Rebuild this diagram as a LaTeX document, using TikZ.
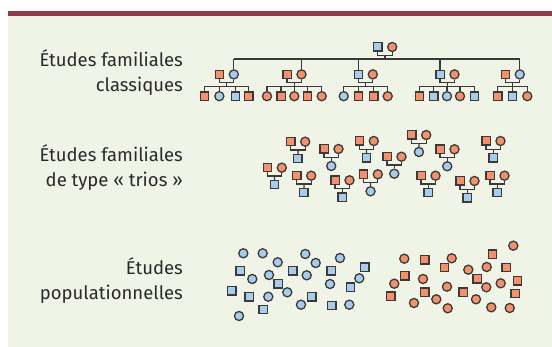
\documentclass[tikz,border=0pt]{standalone}
\usepackage{fontspec}
\setmainfont{Fira Sans}
\usetikzlibrary{calc}

\definecolor{panel}{HTML}{EFF4E6}
\definecolor{bar}{HTML}{8E3A4A}
\definecolor{orng}{HTML}{F4916C}
\definecolor{blu}{HTML}{A8CCEC}
\definecolor{linec}{HTML}{3A3A3A}
\definecolor{txtc}{HTML}{2A2A2A}

\tikzset{
  ind/.style={draw=linec, line width=1.3pt, inner sep=0pt},
  sqO/.style={ind, rectangle, minimum size=8.3pt, fill=orng},
  sqB/.style={ind, rectangle, minimum size=8.3pt, fill=blu},
  ciO/.style={ind, circle, minimum size=9.1pt, fill=orng},
  ciB/.style={ind, circle, minimum size=9.1pt, fill=blu},
  link/.style={draw=linec, line width=1.3pt},
  studytxt/.style={anchor=east, align=right, text=txtc, inner sep=0pt,
    font=\fontsize{18.5}{25.3}\selectfont}
}

% a couple: square (#1m) and circle (#1f), joined at (#1j)
\newcommand{\couple}[5]{%
  \node[#4] (#1m) at (#2,#3) {};
  \node[#5] (#1f) at (#2+14.5,#3) {};
  \coordinate (#1j) at ($(#1m.south)!0.5!(#1f.south)+(0,3.4)$);
  \draw[link] (#1m.south) |- (#1j) -| (#1f.south);
}
% a trio: two parents and one child (#1c)
\newcommand{\trio}[4]{%
  \couple{#1}{#2}{#3}{sqO}{ciO}
  \node[#4] (#1c) at (#2+7.25,#3+17) {};
  \draw[link] (#1j) -- (#1c.north);
}

\begin{document}
\begin{tikzpicture}[x=1pt,y=-1pt]
% Background and top bar
\fill[white] (0,0) rectangle (552,347);
\fill[panel] (8,16) rectangle (552,347);
\fill[bar] (8,11) rectangle (552,16);

% Row labels
\node[studytxt] (classic) at (183,72.2) {Études familiales\\classiques};
\node[studytxt] (trios) at (183,167.2) {Études familiales\\de type « trios »};
\node[studytxt] (popul) at (183,280.4) {Études\\populationnelles};

% Classical pedigree
\coordinate (br) at (0,59);
\coordinate (kids) at (0,86.3);
\couple{g}{377.7}{47}{sqB}{ciO}
\draw[link] (gj) -- (gj |- br);

\couple{a}{219.3}{74.4}{sqO}{ciB}
\couple{b}{287}{74.4}{sqO}{ciO}
\couple{c}{358.3}{74.4}{sqB}{ciO}
\couple{d}{440}{74.4}{sqB}{ciO}
\couple{e}{505.3}{74.4}{sqO}{ciB}

\draw[link] (af.north |- br) -- (ef.north |- br);
\foreach \n in {af,bf,cm,dm,ef}
  \draw[link] (\n.north) -- (\n.north |- br);

% Children of each family
\foreach \x/\s [count=\i] in {204.3/sqO,219.3/ciB,235.3/sqB,248.7/sqO} {
  \node[\s] (a\i) at (\x,96.2) {};
  \draw[link] (a\i.north) -- (a\i.north |- kids);
}
\foreach \x/\s [count=\i] in {267/ciO,281/sqO,294.3/ciO,307.3/sqO,321.7/ciO} {
  \node[\s] (b\i) at (\x,96.2) {};
  \draw[link] (b\i.north) -- (b\i.north |- kids);
}
\foreach \x/\s [count=\i] in {343.7/ciB,358.3/sqO,373.7/sqO,387.7/ciO} {
  \node[\s] (c\i) at (\x,96.2) {};
  \draw[link] (c\i.north) -- (c\i.north |- kids);
}
\foreach \x/\s [count=\i] in {419.3/sqO,433.7/sqB,447/ciB,460/ciO,474.3/sqB} {
  \node[\s] (d\i) at (\x,96.2) {};
  \draw[link] (d\i.north) -- (d\i.north |- kids);
}
\foreach \x/\s [count=\i] in {497.7/sqO,512.3/sqB,527.3/ciO} {
  \node[\s] (e\i) at (\x,96.2) {};
  \draw[link] (e\i.north) -- (e\i.north |- kids);
}
\draw[link] (a1.north |- kids) -- (a4.north |- kids);
\draw[link] (b1.north |- kids) -- (b5.north |- kids);
\draw[link] (c1.north |- kids) -- (c4.north |- kids);
\draw[link] (d1.north |- kids) -- (d5.north |- kids);
\draw[link] (e1.north |- kids) -- (e3.north |- kids);
\foreach \n in {a,b,c,d,e}
  \draw[link] (\n j) -- (\n j |- kids);

% Trios
\foreach \n/\x/\y/\s in {t1/290.7/141.7/sqB, t2/267.3/167.7/sqB,
    t3/324/149/ciB, t4/296.7/175.7/sqB, t5/359.3/141/sqB,
    t6/335/180.3/sqB, t7/363.3/174.3/ciB, t8/387/156.7/ciB,
    t9/411.7/135/ciB, t10/440/149.3/ciB, t11/421/175.7/sqB,
    t12/460/181/sqB, t13/486/141/sqB, t14/490/175.7/sqB}
  {\trio{\n}{\x}{\y}{\s}}

% Population samples
\foreach \x/\y [count=\i] in {243.3/253.3, 262.7/253.3, 277.7/262.3,
    305.3/254, 315.7/263, 340/258, 252.3/279, 269/275, 306.7/275.3,
    330/284, 359.3/278.3, 287.3/292.3, 268.3/296.7, 301/304.7,
    349.3/304.7, 239/316}
  \node[ciB] (pc\i) at (\x,\y) {};
\foreach \x/\y [count=\i] in {240/271, 292.7/271, 331/271, 364.7/267.3,
    278/284, 350.3/287.3, 231.7/291, 249/297, 311.7/297, 331.7/305.7,
    263/309.7}
  \node[sqB] (ps\i) at (\x,\y) {};
\foreach \x/\y [count=\i] in {404.3/258.7, 451.7/258.3, 513.3/245.7,
    468.3/269.7, 486.7/267, 394.3/283.7, 423/279, 447/286.7,
    486.3/287.3, 500.7/283.3, 436.3/299.3, 414/303, 476/299.3,
    447.7/308.3, 491.3/307.3, 509.7/308}
  \node[ciO] (qc\i) at (\x,\y) {};
\foreach \x/\y [count=\i] in {424.7/260, 444.3/267.7, 492.3/254.3,
    506/267.7, 404.7/276, 477/279, 517.3/281, 390.7/296.3,
    424.7/292.3, 463/292.3, 515/293.7}
  \node[sqO] (qs\i) at (\x,\y) {};
\end{tikzpicture}
\end{document}
